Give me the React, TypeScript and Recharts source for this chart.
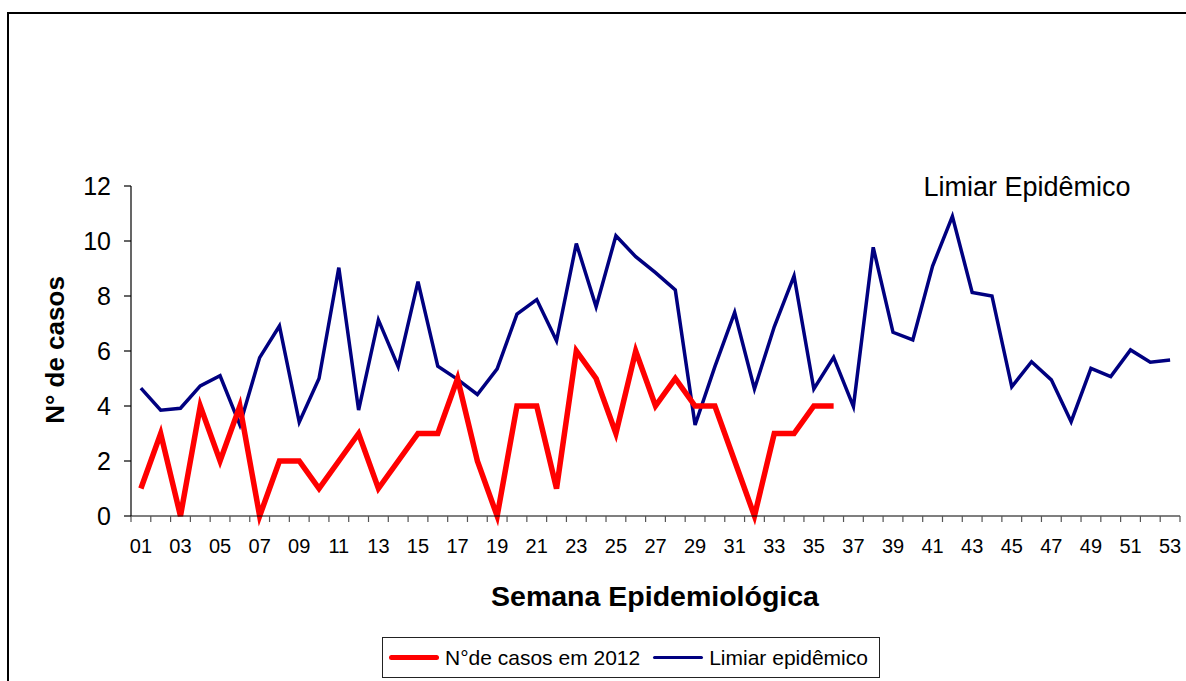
import React from "react";
import { LineChart, Line, XAxis, YAxis } from "recharts";

const weeks: number[] = Array.from({ length: 53 }, (_, i) => i + 1);

const casos2012: (number | null)[] = [
  1, 3, 0, 4, 2, 4, 0, 2, 2, 1, 2, 3, 1, 2, 3, 3, 5, 2, 0, 4, 4, 1, 6, 5, 3, 6,
  4, 5, 4, 4, 2, 0, 3, 3, 4, 4,
];

const limiar: number[] = [
  4.65, 3.85, 3.92, 4.73, 5.1, 3.31, 5.76, 6.91, 3.41, 5.0, 9.03, 3.85, 7.13,
  5.43, 8.52, 5.45, 4.97, 4.42, 5.35, 7.34, 7.87, 6.37, 9.91, 7.61, 10.19, 9.43,
  8.85, 8.22, 3.31, 5.43, 7.4, 4.62, 6.88, 8.73, 4.62, 5.77, 3.98, 9.77, 6.68,
  6.4, 9.09, 10.9, 8.13, 8.0, 4.7, 5.61, 4.95, 3.43, 5.37, 5.07, 6.04, 5.59,
  5.67,
];

const yTicks: number[] = [0, 2, 4, 6, 8, 10, 12];
const xLabelTicks: number[] = weeks.filter((w) => w % 2 === 1);
const xBoundaryTicks: number[] = [0, ...weeks].map((w) => w + 0.5);

const data = weeks.map((w, i) => ({
  week: w,
  casos: i < casos2012.length ? casos2012[i] : null,
  limiar: limiar[i],
}));

const FONT = "'Liberation Sans', Arial, sans-serif";

export default function App() {
  return (
    <div
      style={{
        position: "absolute",
        left: 0,
        top: 0,
        width: 1186,
        height: 681,
        overflow: "hidden",
        background: "#fff",
        fontFamily: FONT,
      }}
    >
      <div
        style={{
          position: "absolute",
          left: 7,
          top: 12,
          width: 1200,
          height: 700,
          borderLeft: "2px solid #000",
          borderTop: "2px solid #000",
        }}
      />
      <div style={{ position: "absolute", left: 0, top: 0 }}>
        <LineChart
          width={1186}
          height={681}
          data={data}
          margin={{ top: 186, right: 6, left: 71, bottom: 125 }}
        >
          <XAxis
            xAxisId="a"
            dataKey="week"
            type="number"
            domain={[0.5, 53.5]}
            ticks={xBoundaryTicks}
            tickFormatter={() => ""}
            tickSize={6}
            height={10}
            interval={0}
            axisLine={{ stroke: "#000", strokeWidth: 1.2 }}
            tickLine={{ stroke: "#555", strokeWidth: 1.2 }}
            allowDataOverflow
          />
          <XAxis
            xAxisId="b"
            dataKey="week"
            type="number"
            domain={[0.5, 53.5]}
            ticks={xLabelTicks}
            tickFormatter={(v: number) => String(v).padStart(2, "0")}
            axisLine={false}
            tickLine={false}
            tickSize={0}
            tickMargin={13}
            height={30}
            interval={0}
            tick={{ fill: "#000", fontSize: 20, fontFamily: FONT }}
            allowDataOverflow
          />
          <YAxis
            domain={[0, 12]}
            ticks={yTicks}
            width={60}
            tickSize={7}
            tickMargin={13}
            interval={0}
            axisLine={{ stroke: "#000", strokeWidth: 1.2 }}
            tickLine={{ stroke: "#000", strokeWidth: 1.2 }}
            tick={{ fill: "#000", fontSize: 25, fontFamily: FONT }}
          />
          <Line
            xAxisId="a"
            dataKey="limiar"
            stroke="#000080"
            strokeWidth={3.5}
            dot={false}
            isAnimationActive={false}
            connectNulls={false}
          />
          <Line
            xAxisId="a"
            dataKey="casos"
            stroke="#FF0000"
            strokeWidth={5.5}
            dot={false}
            isAnimationActive={false}
            connectNulls={false}
          />
        </LineChart>
      </div>

      <div
        style={{
          position: "absolute",
          left: 55,
          top: 350,
          transform: "translate(-50%, -50%) rotate(-90deg)",
          fontWeight: "bold",
          fontSize: 26,
          whiteSpace: "nowrap",
          color: "#000",
        }}
      >
        N° de casos
      </div>

      <div
        style={{
          position: "absolute",
          left: 655,
          top: 596,
          transform: "translate(-50%, -50%)",
          fontWeight: "bold",
          fontSize: 28.5,
          whiteSpace: "nowrap",
          color: "#000",
        }}
      >
        Semana Epidemiológica
      </div>

      <div
        style={{
          position: "absolute",
          left: 1027,
          top: 187,
          transform: "translate(-50%, -50%)",
          fontSize: 27,
          whiteSpace: "nowrap",
          color: "#000",
        }}
      >
        Limiar Epidêmico
      </div>

      <div
        style={{
          position: "absolute",
          left: 382,
          top: 637,
          width: 498,
          height: 41,
          border: "1px solid #222",
          boxSizing: "border-box",
          display: "flex",
          alignItems: "center",
          fontSize: 21,
          color: "#000",
          whiteSpace: "nowrap",
        }}
      >
        <div
          style={{
            marginLeft: 6,
            width: 50,
            height: 5,
            borderRadius: 3,
            background: "#FF0000",
          }}
        />
        <span style={{ marginLeft: 6 }}>N°de casos em 2012</span>
        <div
          style={{
            marginLeft: 13,
            width: 50,
            height: 3.5,
            borderRadius: 2,
            background: "#000080",
          }}
        />
        <span style={{ marginLeft: 6 }}>Limiar epidêmico</span>
      </div>
    </div>
  );
}
